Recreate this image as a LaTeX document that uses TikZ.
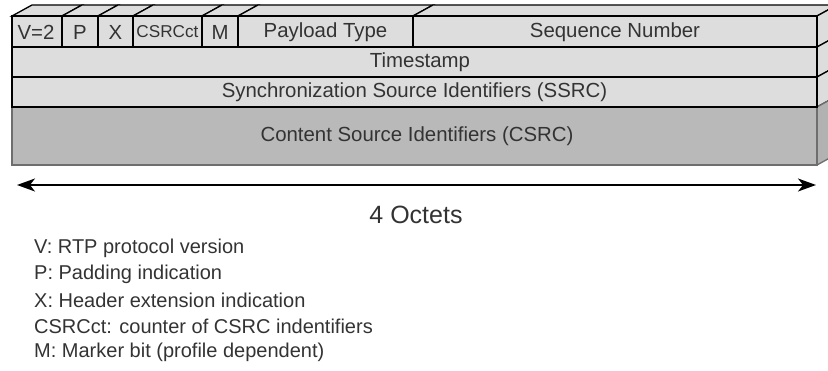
\documentclass[tikz,border=0pt]{standalone}
\usepackage{fontspec}
\setmainfont{Liberation Sans}
\usetikzlibrary{arrows.meta}
\definecolor{facelight}{HTML}{DDDDDD}
\definecolor{facedark}{HTML}{B9B9B9}
\definecolor{sidedark}{HTML}{B2B2B2}
\definecolor{edgegray}{HTML}{6E6E6E}
\definecolor{txt}{HTML}{333333}
\tikzset{
  face/.style={fill=facelight, draw=black, line width=1.3pt, line join=miter},
  darkface/.style={fill=facedark, draw=edgegray, line width=1.3pt},
  darkside/.style={fill=sidedark, draw=edgegray, line width=1.3pt},
  lbl/.style={text=txt, font=\fontsize{20.4}{24}\selectfont, inner sep=0pt},
  legend/.style={text=txt, font=\fontsize{20}{24}\selectfont, inner sep=0pt, anchor=west},
  span/.style={line width=1.4pt, {Stealth[length=18pt,width=13pt,inset=5pt]}-{Stealth[length=18pt,width=13pt,inset=5pt]}}
}
\begin{document}
\begin{tikzpicture}[x=1pt,y=-1pt]
\useasboundingbox (0,0) rectangle (828,371);
% top faces of first row columns
\foreach \a/\b in {12/62,62/98,98/133,133/202,202/238,238/413,413/817}{
  \draw[face] (\a,16) -- (\b,16) -- ({\b+20},5) -- ({\a+20},5) -- cycle;
}
% side faces
\foreach \t/\u in {16/47,47/77,77/107}{
  \draw[face] (817,\t) -- (837,{\t-11}) -- (837,{\u-11}) -- (817,\u) -- cycle;
}
\draw[darkside] (817,107) -- (837,96) -- (837,154) -- (817,165) -- cycle;
% front faces
\draw[darkface] (12,107) rectangle (817,165);
\draw[face] (12,77) rectangle (817,107);
\draw[face] (12,47) rectangle (817,77);
\foreach \a/\b in {12/62,62/98,98/133,133/202,202/238,238/413,413/817}{
  \draw[face] (\a,16) rectangle (\b,47);
}
% labels
\node[lbl] (v) at (36,32) {V=2};
\node[lbl] (p) at (80,32) {P};
\node[lbl] (x) at (115.5,32) {X};
\node[lbl] (cc) at (167.5,32) {\resizebox{62pt}{!}{CSRCct}};
\node[lbl] (m) at (220,32) {M};
\node[lbl] (pt) at (325.5,32) {Payload Type};
\node[lbl] (sn) at (615,32) {Sequence Number};
\node[lbl] (ts) at (420,62) {Timestamp};
\node[lbl] (ss) at (414.5,92) {Synchronization Source Identifiers (SSRC)};
\node[lbl] (cs) at (417,136) {Content Source Identifiers (CSRC)};
% span arrow
\coordinate (l) at (17,185);
\coordinate (r) at (816,185);
\draw[span] (l) -- (r);
\node[lbl, font=\fontsize{25}{30}\selectfont] (oct) at (416,215) {4 Octets};
% legend
\node[legend] (l1) at (34,248) {V: RTP protocol version};
\node[legend] (l2) at (34,274) {P: Padding indication};
\node[legend] (l3) at (34,300) {X: Header extension indication};
\node[legend] (l4) at (34,326) {CSRCct: counter of CSRC indentifiers};
\node[legend] (l5) at (34,352) {M: Marker bit (profile dependent)};
\end{tikzpicture}
\end{document}
